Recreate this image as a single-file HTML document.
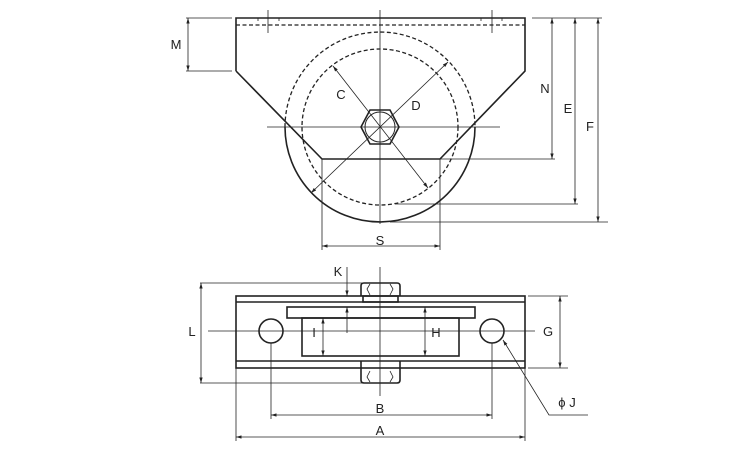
<!DOCTYPE html>
<html><head><meta charset="utf-8"><style>html,body{margin:0;padding:0;background:#fff}svg{display:block}</style></head><body>
<svg width="750" height="450" viewBox="0 0 750 450" xmlns="http://www.w3.org/2000/svg">
<defs>
<marker id="a" viewBox="0 0 10 10" refX="10" refY="5" markerWidth="7" markerHeight="7" orient="auto-start-reverse"><path d="M0,2 L10,5 L0,8 z" fill="#222"/></marker>
</defs>
<g fill="none" stroke="#222" stroke-width="0.8">
<line x1="380" y1="10" x2="380" y2="224"/>
<line x1="267" y1="127" x2="500" y2="127"/>
<line x1="268" y1="10" x2="268" y2="33"/><line x1="492" y1="10" x2="492" y2="33"/>
<line x1="258" y1="18" x2="258" y2="21"/><line x1="279" y1="18" x2="279" y2="21"/>
<line x1="481" y1="18" x2="481" y2="21"/><line x1="502" y1="18" x2="502" y2="21"/>
<line x1="333" y1="66" x2="428" y2="188" marker-start="url(#a)" marker-end="url(#a)"/>
<line x1="448" y1="62" x2="311" y2="193" marker-start="url(#a)" marker-end="url(#a)"/>
<line x1="186" y1="18" x2="232" y2="18"/><line x1="186" y1="71" x2="232" y2="71"/>
<line x1="188" y1="18" x2="188" y2="71" marker-start="url(#a)" marker-end="url(#a)"/>
<line x1="532" y1="18" x2="602" y2="18"/>
<line x1="440" y1="159" x2="555" y2="159"/>
<line x1="395" y1="204" x2="578" y2="204"/>
<line x1="390" y1="222" x2="608" y2="222"/>
<line x1="552" y1="18" x2="552" y2="159" marker-start="url(#a)" marker-end="url(#a)"/>
<line x1="575" y1="18" x2="575" y2="204" marker-start="url(#a)" marker-end="url(#a)"/>
<line x1="598" y1="18" x2="598" y2="222" marker-start="url(#a)" marker-end="url(#a)"/>
<line x1="322" y1="159" x2="322" y2="250"/><line x1="440" y1="159" x2="440" y2="250"/>
<line x1="322" y1="246" x2="440" y2="246" marker-start="url(#a)" marker-end="url(#a)"/>
<line x1="380" y1="267" x2="380" y2="396"/>
<line x1="208" y1="331" x2="535" y2="331"/>
<line x1="200" y1="283" x2="362" y2="283"/><line x1="200" y1="383" x2="362" y2="383"/>
<line x1="201" y1="283" x2="201" y2="383" marker-start="url(#a)" marker-end="url(#a)"/>
<line x1="528" y1="296" x2="568" y2="296"/><line x1="528" y1="368" x2="568" y2="368"/>
<line x1="560" y1="296" x2="560" y2="368" marker-start="url(#a)" marker-end="url(#a)"/>
<line x1="323" y1="318" x2="323" y2="356" marker-start="url(#a)" marker-end="url(#a)"/>
<line x1="425" y1="307" x2="425" y2="356" marker-start="url(#a)" marker-end="url(#a)"/>
<line x1="347" y1="267" x2="347" y2="296" marker-end="url(#a)"/>
<line x1="347" y1="333" x2="347" y2="307" marker-end="url(#a)"/>
<line x1="271" y1="343" x2="271" y2="419"/><line x1="492" y1="343" x2="492" y2="419"/>
<line x1="271" y1="415" x2="492" y2="415" marker-start="url(#a)" marker-end="url(#a)"/>
<line x1="236" y1="368" x2="236" y2="441"/><line x1="525" y1="368" x2="525" y2="441"/>
<line x1="236" y1="437" x2="525" y2="437" marker-start="url(#a)" marker-end="url(#a)"/>
<polyline points="588,415 549,415 503,340" marker-end="url(#a)"/>
<path d="M370,284 L367,289 L370,295 M390,284 L393,289 L390,295 M370,382 L367,377 L370,371 M390,382 L393,377 L390,371"/>
</g>
<g fill="none" stroke="#222" stroke-width="1.6">
<polyline points="236,71 236,18 525,18 525,71 440,159 322,159 236,71"/>
<path d="M285,127 A95,95 0 0 0 475,127"/>
<polygon points="361,127 370,110 390,110 399,127 390,144 370,144"/>
<circle cx="380" cy="127" r="15" stroke-width="1"/>
<rect x="236" y="296" width="289" height="72"/>
<line x1="236" y1="302" x2="525" y2="302"/><line x1="236" y1="361" x2="525" y2="361"/>
<rect x="287" y="307" width="188" height="11"/>
<rect x="302" y="318" width="157" height="38"/>
<path d="M361,296 V286 Q361,283 364,283 H397 Q400,283 400,286 V296"/>
<rect x="363" y="296" width="35" height="6"/>
<path d="M361,361 V380 Q361,383 364,383 H397 Q400,383 400,380 V361"/>
<circle cx="271" cy="331" r="12"/><circle cx="492" cy="331" r="12"/>
</g>
<g fill="none" stroke="#222" stroke-width="1.3" stroke-dasharray="4,2.5">
<line x1="236" y1="25" x2="525" y2="25"/>
<path d="M285,127 A95,95 0 0 1 475,127"/>
<circle cx="380" cy="127" r="78"/>
</g>
<g font-family="Liberation Sans, sans-serif" font-size="13" fill="#222" text-anchor="middle">
<text x="176" y="49">M</text><text x="341" y="99">C</text><text x="416" y="110">D</text>
<text x="545" y="93">N</text><text x="568" y="113">E</text><text x="590" y="131">F</text>
<text x="380" y="245">S</text>
<text x="338" y="276">K</text><text x="192" y="336">L</text><text x="314" y="337">I</text>
<text x="436" y="337">H</text><text x="548" y="336">G</text><text x="380" y="413">B</text>
<text x="380" y="435">A</text><text x="567" y="407">ϕ J</text>
</g>
</svg>
</body></html>
